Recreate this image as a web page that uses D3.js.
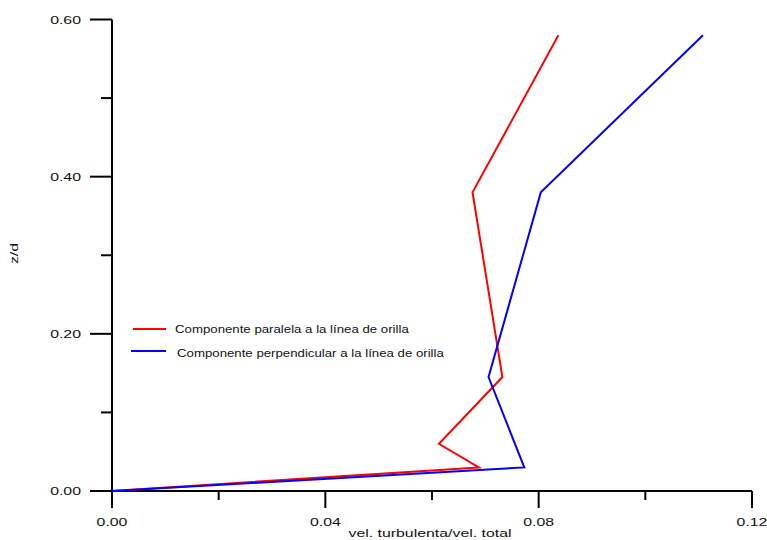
<!DOCTYPE html>
<html>
<head>
<meta charset="utf-8">
<script src="https://cdn.jsdelivr.net/npm/d3@7"></script>
<style>
  html, body { margin: 0; padding: 0; background: #fff; }
  svg text { font-family: "Liberation Sans", Arial, sans-serif; fill: #111; }
</style>
</head>
<body>
<svg id="chart" width="767" height="540"></svg>
<script>
// z/d levels and turbulence ratios for each velocity component
const zd = [0.00, 0.03, 0.06, 0.145, 0.38, 0.58];
const zdPerp = [0.00, 0.03, 0.145, 0.38, 0.58];
const paralela = [0.000, 0.0688, 0.0613, 0.0732, 0.0676, 0.0837];
const perpendicular = [0.000, 0.0773, 0.0706, 0.0804, 0.1108];

const xMajor = [0.00, 0.04, 0.08, 0.12];
const xMinor = [0.02, 0.06, 0.10];
const yMajor = [0.00, 0.20, 0.40, 0.60];
const yMinor = [0.10, 0.30, 0.50];

const seriesNames = [
  "Componente paralela a la línea de orilla",
  "Componente perpendicular a la línea de orilla"
];
const seriesColors = ["#ff0000", "#0000ff"];

const svg = d3.select("#chart");
const x = d3.scaleLinear().domain([0, 0.12]).range([112, 752]);
const y = d3.scaleLinear().domain([0, 0.60]).range([491, 19.5]);

// the typeface is set wide: stretch glyphs horizontally
function wideText(parent, px, py, str, opts) {
  const o = Object.assign({ size: 11.5, anchor: "start", stretch: 1.38 }, opts || {});
  const g = parent.append("g")
    .attr("transform", `translate(${px},${py}) scale(${o.stretch},1)`);
  return g.append("text")
    .attr("text-anchor", o.anchor)
    .attr("dy", "0.35em")
    .attr("font-size", o.size)
    .text(str);
}

// axis lines
const axisG = svg.append("g").attr("stroke", "#000").attr("stroke-width", 2);
axisG.append("line").attr("x1", x(0)).attr("x2", x(0)).attr("y1", y(0.6)).attr("y2", y(0) + 17);
axisG.append("line").attr("x1", x(0) - 22).attr("x2", x(0.12)).attr("y1", y(0)).attr("y2", y(0));

// y ticks
axisG.selectAll(".ymaj").data(yMajor).join("line")
  .attr("x1", x(0) - 22).attr("x2", x(0)).attr("y1", d => y(d)).attr("y2", d => y(d));
axisG.selectAll(".ymin").data(yMinor).join("line")
  .attr("x1", x(0) - 11).attr("x2", x(0)).attr("y1", d => y(d)).attr("y2", d => y(d));
// x ticks
axisG.selectAll(".xmaj").data(xMajor).join("line")
  .attr("x1", d => x(d)).attr("x2", d => x(d)).attr("y1", y(0)).attr("y2", y(0) + 17);
axisG.selectAll(".xmin").data(xMinor).join("line")
  .attr("x1", d => x(d)).attr("x2", d => x(d)).attr("y1", y(0)).attr("y2", y(0) + 9);

// tick labels
const fmt = d3.format(".2f");
const labels = svg.append("g");
yMajor.forEach(d => wideText(labels, 81, y(d), fmt(d), { anchor: "end" }));
xMajor.forEach(d => wideText(labels, x(d), 522, fmt(d), { anchor: "middle" }));

// axis titles
wideText(labels, 430, 533, "vel. turbulenta/vel. total", { anchor: "middle" });
svg.append("g").attr("transform", "translate(14,253.5) rotate(-90) scale(1.38,1)")
  .append("text").attr("text-anchor", "middle").attr("dy", "0.35em")
  .attr("font-size", 11.5).text("z/d");

// data lines
const line = d3.line().x(d => x(d[0])).y(d => y(d[1]));
const seriesData = [
  paralela.map((v, i) => [v, zd[i]]),
  perpendicular.map((v, i) => [v, zdPerp[i]])
];
svg.selectAll(".series").data(seriesData).join("path")
  .attr("d", line)
  .attr("fill", "none")
  .attr("stroke", (d, i) => seriesColors[i])
  .attr("stroke-width", 2)
  .attr("stroke-linejoin", "miter");

// legend
const legendY = [329, 351];
const legendTextY = [329.5, 353];
const legendX1 = [133, 131];
const legendTextX = [175, 177];
const lg = svg.append("g");
seriesNames.forEach((name, i) => {
  lg.append("line").attr("x1", legendX1[i]).attr("x2", 166)
    .attr("y1", legendY[i]).attr("y2", legendY[i])
    .attr("stroke", seriesColors[i]).attr("stroke-width", 2);
  wideText(lg, legendTextX[i], legendTextY[i], name, { size: 10.5, stretch: 1.26 });
});
</script>
</body>
</html>
